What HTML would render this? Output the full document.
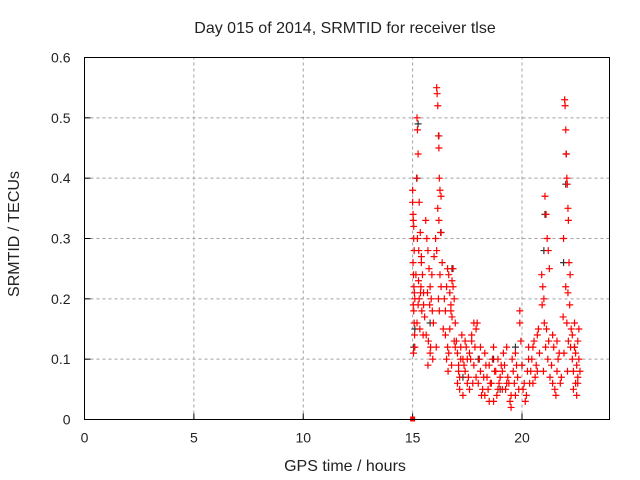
<!DOCTYPE html>
<html><head><meta charset="utf-8"><style>
body{margin:0;background:#fff}
svg{display:block;font-family:"Liberation Sans",sans-serif;font-size:14px}
.lab{font-size:16px}
</style></head><body>
<svg id="chart" width="640" height="480" viewBox="0 0 640 480">
<rect width="640" height="480" fill="#fff"/>
<text class="lab" x="345" y="33" text-anchor="middle" fill="#222">Day 015 of 2014, SRMTID for receiver tlse</text>
<text class="lab" transform="translate(19,234) rotate(-90)" text-anchor="middle" fill="#222">SRMTID / TECUs</text>
<text class="lab" x="345" y="471" text-anchor="middle" fill="#222">GPS time / hours</text>
<g id="grid"></g><g id="ticks"></g><g id="black"></g><g id="red"></g>
<rect x="84.5" y="57.5" width="525" height="362" fill="none" stroke="#000"/>
</svg>
<script>
const xTicks=[0,5,10,15,20];
const yTicks=[0,0.1,0.2,0.3,0.4,0.5,0.6];
const yTickLabels=["0","0.1","0.2","0.3","0.4","0.5","0.6"];
const redHours=[15.0,15.0,15.02,15.03,15.05,15.05,15.07,15.02,15.04,15.06,15.08,15.1,15.03,15.05,15.07,15.09,15.1,15.04,
15.2,15.22,15.25,15.18,15.3,15.35,15.28,15.4,15.45,15.38,15.5,15.3,15.25,15.42,15.55,15.2,15.33,15.48,15.15,15.27,15.36,15.5,15.4,15.22,
15.6,15.65,15.7,15.75,15.8,15.85,15.9,15.95,15.62,15.72,15.82,15.92,15.68,15.78,15.88,15.98,15.7,15.8,
16.1,16.12,16.15,16.18,16.2,16.22,16.25,16.3,16.15,16.2,16.28,16.05,16.1,16.35,16.25,16.3,16.18,16.22,16.4,16.08,
16.45,16.5,16.55,16.6,16.65,16.7,16.75,16.8,16.85,16.9,16.95,16.5,16.6,16.7,16.8,16.9,16.55,16.65,16.75,16.85,16.95,16.62,16.78,
17.0,17.05,17.1,17.15,17.2,17.3,17.4,17.5,17.6,17.7,17.8,17.9,17.05,17.15,17.25,17.35,17.45,17.55,17.65,17.75,17.85,17.95,17.1,17.3,17.5,17.7,17.9,17.2,17.4,17.6,17.8,
18.0,18.1,18.2,18.3,18.4,18.5,18.6,18.7,18.8,18.9,19.0,19.1,19.2,19.3,19.4,19.5,19.6,19.7,19.8,19.9,18.05,18.15,18.25,18.35,18.45,18.55,18.65,18.75,18.85,18.95,19.05,19.15,19.25,19.35,19.45,19.55,19.65,19.75,19.85,19.95,18.1,18.3,18.5,18.7,18.9,19.1,19.3,19.5,19.7,19.9,
20.0,20.1,20.2,20.3,20.4,20.5,20.6,20.7,20.8,20.05,20.15,20.25,20.35,20.45,20.55,20.65,20.75,20.3,20.5,20.7,
20.9,20.95,21.0,21.05,21.1,21.15,21.2,21.25,20.92,21.02,21.12,21.22,21.08,21.18,20.98,21.28,
21.35,21.4,21.5,21.6,21.7,21.8,21.45,21.55,21.65,21.75,21.4,21.6,
21.95,21.97,22.0,22.02,22.05,22.07,22.1,22.12,21.9,22.15,22.2,22.0,22.1,22.18,21.88,22.05,22.25,22.12,22.22,21.92,22.08,
22.3,22.35,22.4,22.45,22.5,22.55,22.6,22.35,22.45,22.55,22.65,22.4,22.5,22.6,22.3,22.55];
const redValues=[0.38,0.36,0.34,0.33,0.32,0.30,0.28,0.26,0.24,0.22,0.21,0.20,0.19,0.18,0.16,0.14,0.12,0.11,
0.50,0.48,0.44,0.40,0.36,0.31,0.28,0.26,0.24,0.22,0.21,0.20,0.19,0.18,0.17,0.16,0.15,0.14,0.24,0.23,0.21,0.19,0.27,0.30,
0.33,0.30,0.28,0.25,0.22,0.20,0.18,0.16,0.14,0.13,0.12,0.10,0.21,0.19,0.24,0.27,0.09,0.11,
0.55,0.54,0.52,0.47,0.45,0.40,0.38,0.37,0.35,0.33,0.31,0.30,0.28,0.26,0.24,0.22,0.20,0.18,0.15,0.12,
0.20,0.18,0.22,0.25,0.24,0.21,0.19,0.23,0.25,0.20,0.16,0.14,0.12,0.15,0.17,0.13,0.10,0.11,0.18,0.22,0.12,0.08,0.09,
0.13,0.11,0.09,0.07,0.12,0.10,0.08,0.06,0.11,0.13,0.09,0.15,0.06,0.05,0.14,0.09,0.12,0.07,0.10,0.06,0.12,0.16,0.08,0.04,0.10,0.14,0.07,0.10,0.13,0.05,0.16,
0.06,0.08,0.05,0.04,0.07,0.09,0.06,0.03,0.08,0.10,0.07,0.05,0.09,0.12,0.06,0.04,0.08,0.11,0.07,0.16,0.10,0.04,0.07,0.09,0.05,0.06,0.10,0.08,0.04,0.06,0.09,0.11,0.05,0.07,0.03,0.10,0.06,0.09,0.05,0.13,0.12,0.11,0.03,0.12,0.05,0.08,0.06,0.02,0.04,0.18,
0.09,0.06,0.04,0.10,0.08,0.12,0.07,0.14,0.11,0.05,0.03,0.08,0.06,0.10,0.13,0.09,0.15,0.12,0.06,0.08,
0.24,0.22,0.20,0.37,0.34,0.30,0.28,0.25,0.19,0.16,0.15,0.13,0.12,0.10,0.08,0.07,
0.09,0.06,0.05,0.08,0.11,0.07,0.12,0.04,0.10,0.06,0.14,0.13,
0.53,0.52,0.48,0.44,0.40,0.39,0.35,0.33,0.30,0.26,0.24,0.22,0.21,0.19,0.17,0.16,0.15,0.13,0.12,0.11,0.08,
0.10,0.08,0.12,0.06,0.09,0.07,0.15,0.05,0.11,0.13,0.08,0.16,0.04,0.10,0.14,0.06];
const blackHours=[15.25,15.2,16.2,15.1,15.05,16.3,21.0,22.0,22.02,21.05,16.8,15.8,18.0,19.0,20.0,22.4,21.9,17.3,18.7,19.7];
const blackValues=[0.49,0.40,0.47,0.15,0.12,0.31,0.28,0.39,0.44,0.34,0.25,0.16,0.10,0.05,0.09,0.12,0.26,0.07,0.10,0.12];
const zeroHours=[15.0];
const zeroValues=[0];

const X0=84.5,X1=609.5,Y0=419.5,Y1=57.5;
const xs=h=>X0+(h/24)*(X1-X0);
const ys=v=>Y0-(v/0.6)*(Y0-Y1);
const NS="http://www.w3.org/2000/svg";
function mk(tag,attrs,parent){const e=document.createElementNS(NS,tag);for(const k in attrs)e.setAttribute(k,attrs[k]);parent.appendChild(e);return e;}
const grid=document.getElementById('grid'),ticks=document.getElementById('ticks');
xTicks.forEach(t=>{const x=xs(t);
 if(t>0){const g=mk('line',{x1:x,x2:x,y1:Y0,y2:Y1,stroke:'#a0a0a0','stroke-dasharray':'3,3'},grid);
 
 }
 const l=mk('line',{x1:x,x2:x,y1:Y0,y2:Y0-6,stroke:'#000'},ticks);
 
 
 const tx=mk('text',{x:x,y:Y0+23,'text-anchor':'middle',fill:'#222'},ticks);tx.textContent=t;
 
 
});
yTicks.forEach((t,i)=>{const y=ys(t);
 if(i>0&&i<yTicks.length-1){const g=mk('line',{x1:X0,x2:X1,y1:y,y2:y,stroke:'#a0a0a0','stroke-dasharray':'3,3'},grid);
 
 }
 const l=mk('line',{x1:X0,x2:X0+6,y1:y,y2:y,stroke:'#000'},ticks);
 
 
 const tx=mk('text',{x:X0-14,y:y+5,'text-anchor':'end',fill:'#222'},ticks);tx.textContent=yTickLabels[i];
 
 
});
function plus(h,v,color,parent,name){const x=xs(h),y=ys(v);
 const p=mk('path',{d:`M${x-3.5} ${y}H${x+3.5}M${x} ${y-3.5}V${y+3.5}`,stroke:color,'stroke-width':1.2,fill:'none'},parent);
 
 }
const bg=document.getElementById('black'),rg=document.getElementById('red');
blackHours.forEach((h,i)=>plus(h,blackValues[i],'#333',bg,'black-point'));
redHours.forEach((h,i)=>plus(h,redValues[i],'#f00',rg,'red-point'));
zeroHours.forEach((h,i)=>{const r=mk('rect',{x:xs(h)-2.5,y:ys(zeroValues[i])-3,width:5,height:5,fill:'#f00'},rg);
 
 });
</script>
</body></html>
